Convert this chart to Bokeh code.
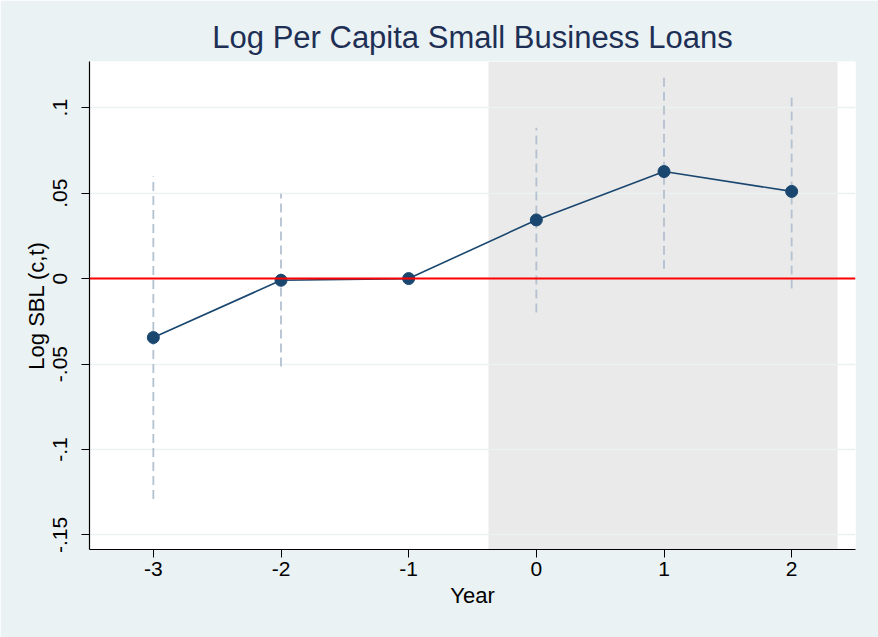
from bokeh.plotting import figure
from bokeh.models import FixedTicker, BoxAnnotation, Span, Range1d
from bokeh.embed import file_html
from bokeh.resources import INLINE

years = [-3, -2, -1, 0, 1, 2]
year_labels = ["-3", "-2", "-1", "0", "1", "2"]
coef = [-0.0345, -0.001, 0.0, 0.0343, 0.0626, 0.051]
ci_low = [-0.129, -0.0515, 0.0, -0.0199, 0.0058, -0.0058]
ci_high = [0.0597, 0.0497, 0.0, 0.0883, 0.1187, 0.1084]
ci_years = [-3, -2, 0, 1, 2]
ci_lo_plot = [ci_low[i] for i, y in enumerate(years) if y in ci_years]
ci_hi_plot = [ci_high[i] for i, y in enumerate(years) if y in ci_years]
y_ticks = [-0.15, -0.1, -0.05, 0.0, 0.05, 0.1]
y_tick_labels = ["-.15", "-.1", "-.05", "0", ".05", ".1"]
shade_from, shade_to = -0.375, 2.36

FONT = "Liberation Sans"
BG = "#EAF2F3"

p = figure(width=878, height=637, output_backend="svg", toolbar_location=None,
           x_range=Range1d(-3.5, 2.5), y_range=Range1d(-0.1585, 0.127),
           min_border_left=89, min_border_right=23, min_border_top=61,
           min_border_bottom=88)
p.background_fill_color = "white"
p.border_fill_color = BG
p.outline_line_color = None

p.title.text = "Log Per Capita Small Business Loans"
p.title.align = "center"
p.title.text_font = FONT
p.title.text_font_size = "31px"
p.title.text_font_style = "normal"
p.title.text_color = "#1e2f55"
p.title.standoff = 14

p.add_layout(BoxAnnotation(left=shade_from, right=shade_to, fill_color="#EAEAEA",
                           fill_alpha=1.0, line_color=None, level="image"))

p.xgrid.visible = False
p.ygrid.ticker = FixedTicker(ticks=y_ticks)
p.ygrid.grid_line_color = BG
p.ygrid.grid_line_width = 1.5

p.add_layout(Span(location=0, dimension="width", line_color="#ff0000", line_width=2))

p.segment(x0=ci_years, x1=ci_years, y0=ci_lo_plot, y1=ci_hi_plot,
          line_color="#b4c1d0", line_width=1.8, line_dash="9 5")

p.line(years, coef, line_color="#1A476F", line_width=1.6)
p.scatter(years, coef, size=12, fill_color="#1A476F", line_color="#1A476F")

p.xaxis.ticker = FixedTicker(ticks=years)
p.xaxis.major_label_overrides = {t: l for t, l in zip(years, year_labels)}
p.yaxis.ticker = FixedTicker(ticks=y_ticks)
p.yaxis.major_label_overrides = {t: l for t, l in zip(y_ticks, y_tick_labels)}
p.yaxis.major_label_orientation = "vertical"

for ax in (p.xaxis[0], p.yaxis[0]):
    ax.axis_line_color = "black"
    ax.axis_line_width = 1.2
    ax.major_tick_line_color = "black"
    ax.major_tick_out = 8
    ax.major_tick_in = 0
    ax.minor_tick_line_color = None
    ax.major_label_text_font = FONT
    ax.major_label_text_font_size = "21px"
    ax.major_label_text_color = "black"
    ax.axis_label_text_font = FONT
    ax.axis_label_text_font_size = "22px"
    ax.axis_label_text_font_style = "normal"
    ax.axis_label_text_color = "black"

p.xaxis.axis_label = "Year"
p.yaxis.axis_label = "Log SBL (c,t)"
p.xaxis.major_label_standoff = 4
p.xaxis.axis_label_standoff = 4
p.yaxis.major_label_standoff = 14
p.yaxis.axis_label_standoff = 2

open("out.html", "w").write(file_html(p, INLINE))
